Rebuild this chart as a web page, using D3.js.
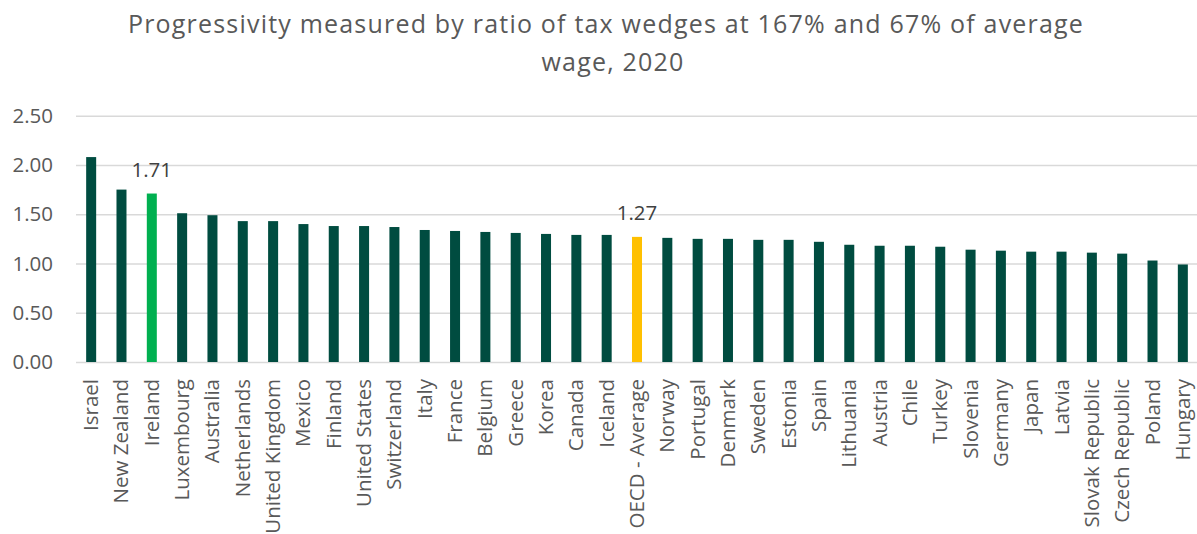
<!DOCTYPE html>
<html>
<head>
<meta charset="utf-8">
<script src="https://cdn.jsdelivr.net/npm/d3@7"></script>
<style>
  html, body { margin: 0; padding: 0; background: #fff; }
  svg { display: block; font-family: "Open Sans", sans-serif; }
</style>
</head>
<body>
<svg id="chart" width="1197" height="534"></svg>
<script>
// Ratio of tax wedges at 167% and 67% of average wage, 2020
const countries = [
  "Israel", "New Zealand", "Ireland", "Luxembourg", "Australia", "Netherlands",
  "United Kingdom", "Mexico", "Finland", "United States", "Switzerland", "Italy",
  "France", "Belgium", "Greece", "Korea", "Canada", "Iceland", "OECD - Average",
  "Norway", "Portugal", "Denmark", "Sweden", "Estonia", "Spain", "Lithuania",
  "Austria", "Chile", "Turkey", "Slovenia", "Germany", "Japan", "Latvia",
  "Slovak Republic", "Czech Republic", "Poland", "Hungary"
];
const ratios = [
  2.08, 1.75, 1.71, 1.51, 1.49, 1.43,
  1.43, 1.40, 1.38, 1.38, 1.37, 1.34,
  1.33, 1.32, 1.31, 1.30, 1.29, 1.29, 1.27,
  1.26, 1.25, 1.25, 1.24, 1.24, 1.22, 1.19,
  1.18, 1.18, 1.17, 1.14, 1.13, 1.12, 1.12,
  1.11, 1.10, 1.03, 0.99
];
const yTicks = [0, 0.5, 1.0, 1.5, 2.0, 2.5];
const labelled = ["Ireland", "OECD - Average"];
const titleLines = [
  "Progressivity measured by ratio of tax wedges at 167% and 67% of average",
  "wage, 2020"
];

const colorDefault = "#004C40";
const colorHighlight = { "Ireland": "#00B050", "OECD - Average": "#FFC000" };
const textColor = "#595959";

const svg = d3.select("#chart");
const plotLeft = 76, plotRight = 1197, plotBottom = 362, plotTop = 115.7;

const x = d3.scaleBand()
  .domain(countries)
  .range([plotLeft, 1198])
  .paddingInner(0.67)
  .paddingOuter(0.335);

const y = d3.scaleLinear()
  .domain([0, 2.5])
  .range([plotBottom, plotTop]);

// Title, two lines
const titleAt = [[606, 33], [613, 71]];
svg.append("g").selectAll("text")
  .data(titleLines)
  .join("text")
  .attr("x", (d, i) => titleAt[i][0])
  .attr("y", (d, i) => titleAt[i][1])
  .attr("text-anchor", "middle")
  .attr("font-size", 25)
  .attr("letter-spacing", 1.2)
  .attr("fill", textColor)
  .text(d => d);

// Gridlines + y axis labels
const yAxis = d3.axisLeft(y)
  .tickValues(yTicks)
  .tickSize(-(plotRight - plotLeft))
  .tickPadding(23)
  .tickFormat(d3.format(".2f"));

const gy = svg.append("g")
  .attr("transform", `translate(${plotLeft},0)`)
  .call(yAxis);
gy.select(".domain").remove();
gy.selectAll(".tick line").attr("stroke", "#D9D9D9").attr("stroke-width", 1.5);
gy.selectAll(".tick text")
  .attr("fill", textColor)
  .attr("font-size", 20.5)
  .attr("font-family", "Open Sans, sans-serif");

// Bars
svg.append("g").selectAll("rect")
  .data(countries)
  .join("rect")
  .attr("x", d => x(d))
  .attr("width", x.bandwidth())
  .attr("y", (d, i) => y(ratios[i]))
  .attr("height", (d, i) => y(0) - y(ratios[i]))
  .attr("fill", d => colorHighlight[d] || colorDefault);

// Value labels for highlighted bars
svg.append("g").selectAll("text")
  .data(labelled)
  .join("text")
  .attr("x", d => x(d) + x.bandwidth() / 2)
  .attr("y", d => y(ratios[countries.indexOf(d)]) - 17)
  .attr("text-anchor", "middle")
  .attr("font-size", 20.5)
  .attr("fill", "#404040")
  .text(d => d3.format(".2f")(ratios[countries.indexOf(d)]));

// Category axis labels (rotated)
const xAxis = d3.axisBottom(x).tickSize(0).tickPadding(0);
const gx = svg.append("g")
  .attr("transform", `translate(0,${plotBottom})`)
  .call(xAxis);
gx.select(".domain").remove();
gx.selectAll(".tick text")
  .attr("fill", textColor)
  .attr("font-size", 20.5)
  .attr("font-family", "Open Sans, sans-serif")
  .attr("text-anchor", "end")
  .attr("dy", null)
  .attr("y", 0)
  .attr("transform", "translate(7,17) rotate(-90)");
</script>
</body>
</html>
